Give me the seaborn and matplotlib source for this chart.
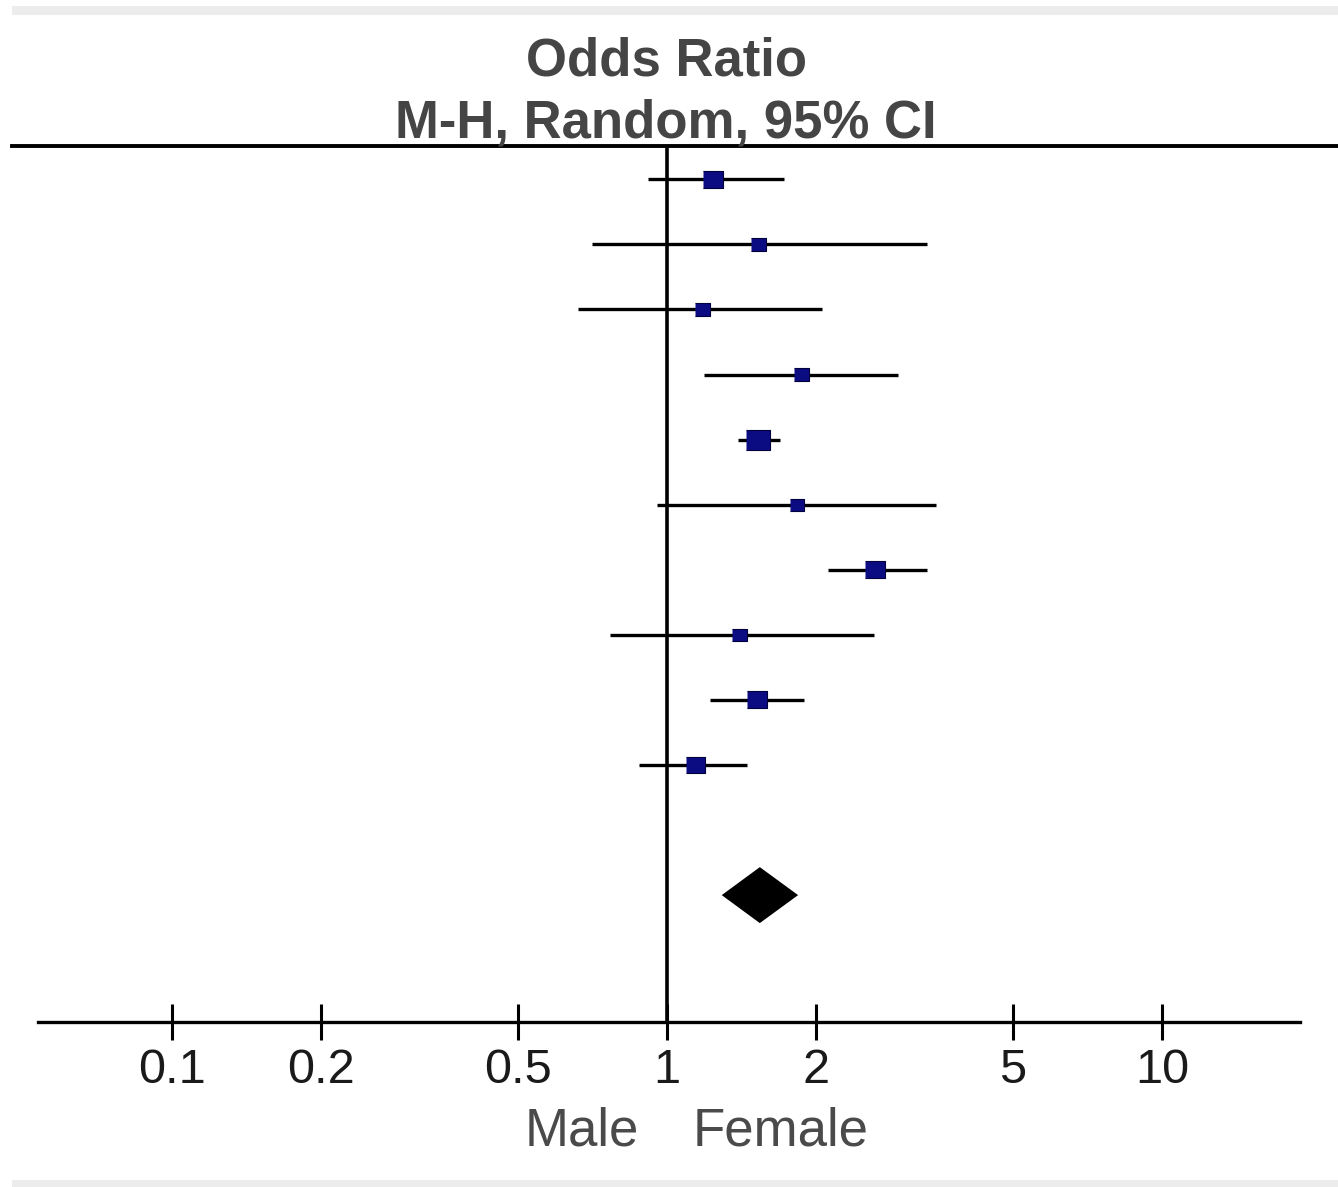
import numpy as np
import pandas as pd
import matplotlib.pyplot as plt
from matplotlib.patches import Rectangle
import seaborn as sns

# ---------------------------------------------------------------
# data (odds ratio, 95% CI, weight %)
# ---------------------------------------------------------------
study_row = [1, 2, 3, 4, 5, 6, 7, 8, 9, 10]
odds_ratio = [1.24, 1.53, 1.18, 1.87, 1.53, 1.83, 2.63, 1.40, 1.52, 1.14]
ci_low = [0.915, 0.705, 0.66, 1.19, 1.39, 0.955, 2.11, 0.767, 1.22, 0.878]
ci_high = [1.72, 3.35, 2.06, 2.93, 1.69, 3.50, 3.35, 2.62, 1.89, 1.45]
weight = [12.5, 7.3, 7.3, 7.3, 17.3, 6.2, 12.5, 6.2, 12.5, 11.0]

pooled_row = 12
pooled_or = 1.54
pooled_low = 1.29
pooled_high = 1.84

tick_values = [0.1, 0.2, 0.5, 1, 2, 5, 10]
tick_labels = ["0.1", "0.2", "0.5", "1", "2", "5", "10"]

df = pd.DataFrame({"row": study_row, "or": odds_ratio,
                   "lo": ci_low, "hi": ci_high, "w": weight})

# ---------------------------------------------------------------
# figure
# ---------------------------------------------------------------
W, H = 1338, 1187
sns.set_style("white")
plt.rcParams["font.family"] = ["Liberation Sans", "DejaVu Sans"]

fig = plt.figure(figsize=(W / 100, H / 100), dpi=100)
ax = fig.add_axes([12 / W, 1 - 1022 / H, 1 - 12 / W, (1022 - 145.5) / H])

navy = "#0c0c82"

ax.hlines(df["row"], df["lo"], df["hi"], color="black", lw=2.4, zorder=2)
box = [(-1.2, -1), (1.2, -1), (1.2, 1), (-1.2, 1)]
sns.scatterplot(data=df, x="or", y="row", size="w", sizes=(0, 300),
                size_norm=(0, max(weight)), marker=box, color=navy,
                edgecolor="#00003c", linewidth=0.8, legend=False, ax=ax,
                zorder=3)

# pooled diamond
dh = 0.43
ax.fill([pooled_low, pooled_or, pooled_high, pooled_or],
        [pooled_row, pooled_row - dh, pooled_row, pooled_row + dh],
        color="black", lw=0, zorder=3)

ax.axvline(1, color="black", lw=2.6, zorder=1)

ax.set_xscale("log")
ax.set_xlim(10 ** ((12 - 667) / 495), 10 ** ((1338 - 667) / 495))
ax.set_ylim(13.95, 0.48)
ax.set_yticks([])
ax.set_xticks(tick_values)
ax.set_xticklabels(tick_labels)
ax.minorticks_off()
ax.tick_params(axis="x", bottom=True, direction="inout", length=26,
               width=2.2, pad=6, labelsize=35, color="black",
               labelcolor="#1a1a1a")
ax.set_xlabel("")
ax.set_ylabel("")

for s in ["left", "right"]:
    ax.spines[s].set_visible(False)
ax.spines["top"].set_linewidth(2.8)
ax.spines["top"].set_color("black")
ax.spines["bottom"].set_linewidth(2.4)
ax.spines["bottom"].set_color("black")
ax.spines["bottom"].set_bounds(10 ** ((38 - 667) / 495), 10 ** ((1300 - 667) / 495))

# header and direction labels
hdr = "#454545"
fig.text(666 / W, 1 - 75 / H, "Odds Ratio", ha="center", va="baseline",
         fontsize=38, fontweight="bold", color=hdr)
fig.text(666 / W, 1 - 138 / H, "M-H, Random, 95% CI", ha="center",
         va="baseline", fontsize=38, fontweight="bold", color=hdr)
fig.text(639 / W, 1 - 1145 / H, "Male", ha="right", va="baseline",
         fontsize=38, color="#4a4a4a")
fig.text(693 / W, 1 - 1145 / H, "Female", ha="left", va="baseline",
         fontsize=38, color="#4a4a4a")

# light grey frame bands
fig.add_artist(Rectangle((12 / W, 1 - 15 / H), 1, 9 / H,
                         transform=fig.transFigure, color="#ececec", lw=0))
fig.add_artist(Rectangle((12 / W, 0), 1, 7 / H,
                         transform=fig.transFigure, color="#ececec", lw=0))

fig.savefig("out.png", dpi=100)
